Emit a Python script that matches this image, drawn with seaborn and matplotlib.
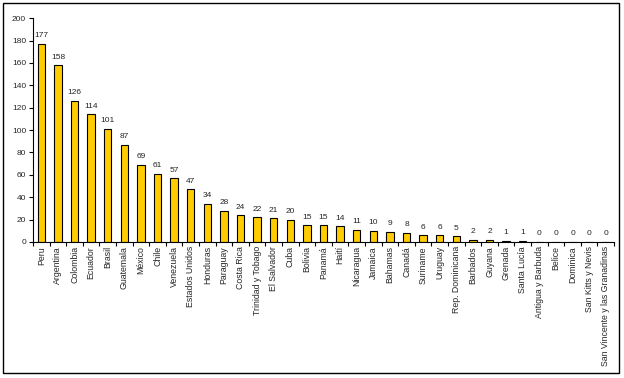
import numpy as np
import pandas as pd
import matplotlib
matplotlib.use('Agg')
import matplotlib.pyplot as plt
import seaborn as sns
from matplotlib.patches import Rectangle

paises = ['Peru', 'Argentina', 'Colombia', 'Ecuador', 'Brasil', 'Guatemala',
          'México', 'Chile', 'Venezuela', 'Estados Unidos', 'Honduras',
          'Paraguay', 'Costa Rica', 'Trinidad y Tobago', 'El Salvador', 'Cuba',
          'Bolivia', 'Panamá', 'Haití', 'Nicaragua', 'Jamaica', 'Bahamas',
          'Canadá', 'Suriname', 'Uruguay', 'Rep. Dominicana', 'Barbados',
          'Guyana', 'Grenada', 'Santa Lucía', 'Antigua y Barbuda', 'Belice',
          'Dominica', 'San Kitts y Nevis', 'San Vincente y las Granadinas']
valores = [177, 158, 126, 114, 101, 87, 69, 61, 57, 47, 34, 28, 24, 22, 21,
           20, 15, 15, 14, 11, 10, 9, 8, 6, 6, 5, 2, 2, 1, 1, 0, 0, 0, 0, 0]
y_ticks = [0, 20, 40, 60, 80, 100, 120, 140, 160, 180, 200]

df = pd.DataFrame({'pais': paises, 'valor': valores})

sns.set_style('white')
plt.rcParams['font.family'] = ['Liberation Sans', 'DejaVu Sans']

fig = plt.figure(figsize=(6.24, 3.78), dpi=100)
ax = fig.add_axes([0.053, 0.36, 0.931, 0.592])

sns.barplot(data=df, x='pais', y='valor', color='#FFCC00', width=0.45,
            edgecolor='black', linewidth=0.8, saturation=1, ax=ax)

for i, v in enumerate(valores):
    ax.text(i, v + 4, str(v), ha='center', va='bottom', fontsize=6)

ax.set_ylim(0, 200)
ax.set_yticks(y_ticks)
ax.set_yticklabels([str(t) for t in y_ticks], fontsize=6)
ax.set_xlim(-0.5, len(paises) - 0.5)
ax.set_xticks(range(len(paises)))
ax.set_xticklabels(paises, rotation=90, fontsize=6.3)
ax.tick_params(axis='x', which='major', bottom=True, length=0, pad=3)
ax.set_xticks(np.arange(-0.5, len(paises), 1), minor=True)
ax.tick_params(axis='x', which='minor', bottom=True, length=3, width=0.8,
               color='black', direction='out')
ax.tick_params(axis='y', left=True, length=3, width=0.8, color='black',
               direction='out', pad=2)
ax.set_xlabel('')
ax.set_ylabel('')

for side in ['top', 'right']:
    ax.spines[side].set_visible(False)
for side in ['left', 'bottom']:
    ax.spines[side].set_color('black')
    ax.spines[side].set_linewidth(0.8)

# borde exterior
fig.patches.append(Rectangle((3 / 624, 5 / 378), 616 / 624, 370 / 378,
                             transform=fig.transFigure, fill=False,
                             edgecolor='black', linewidth=1))

fig.savefig('out.png', dpi=100)
